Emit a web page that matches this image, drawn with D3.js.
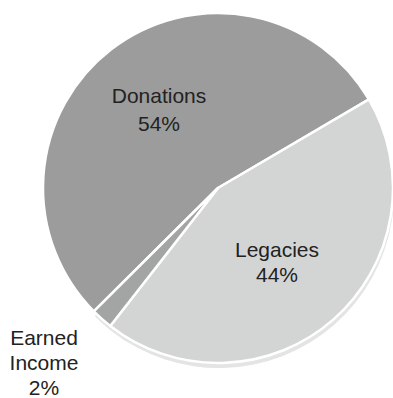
<!DOCTYPE html>
<html>
<head>
<meta charset="utf-8">
<script src="https://cdn.jsdelivr.net/npm/d3@7"></script>
<style>
	body { margin: 0; background: #fff; }
	text { font-family: "Liberation Sans", Arial, sans-serif; fill: #222; }
</style>
</head>
<body>
<script>
// chart data
var categories = ["Donations", "Legacies", "Earned Income"];
var shares = [54, 44, 2];
var labelLines = [["Donations", "54%"], ["Legacies", "44%"], ["Earned", "Income", "2%"]];

var width = 393,
	height = 398,
	cx = 218,
	cy = 188,
	radius = 175;

var colors = ["#9c9c9c", "#d3d5d5", "#a3a5a5"];

var svg = d3.select("body")
	.append("svg")
	.attr("width", width)
	.attr("height", height);

var pie = d3.pie()
	.sort(null)
	.value(function(d) { return d; })
	.startAngle(225.2 * Math.PI / 180)
	.endAngle(585.2 * Math.PI / 180);

var arcs = pie(shares);
var arc = d3.arc().innerRadius(0).outerRadius(radius);

// light rim under the lower slices
svg.append("g")
	.attr("transform", "translate(" + (cx + 1) + "," + (cy + 5) + ")")
	.selectAll("path")
	.data(arcs.slice(1))
	.enter().append("path")
	.attr("d", arc)
	.attr("fill", "#e4e4e4");

svg.append("g")
	.attr("transform", "translate(" + cx + "," + cy + ")")
	.selectAll("path")
	.data(arcs)
	.enter().append("path")
	.attr("d", arc)
	.attr("fill", function(d, i) { return colors[i]; })
	.attr("stroke", "#fff")
	.attr("stroke-width", 2.5)
	.attr("stroke-linejoin", "round");

// label positions (center x, first baseline, line step)
var labelPos = [[159, 103, 28], [277, 257, 25], [44, 345, 25]];

var labels = svg.append("g").selectAll("text")
	.data(labelLines)
	.enter().append("text")
	.attr("text-anchor", "middle")
	.attr("font-size", 21)
	.attr("x", function(d, i) { return labelPos[i][0]; })
	.attr("y", function(d, i) { return labelPos[i][1]; });

labels.each(function(lines, i) {
	var t = d3.select(this);
	lines.forEach(function(s, j) {
		t.append("tspan")
			.attr("x", labelPos[i][0])
			.attr("y", labelPos[i][1] + j * labelPos[i][2])
			.text(s);
	});
});
</script>
</body>
</html>
